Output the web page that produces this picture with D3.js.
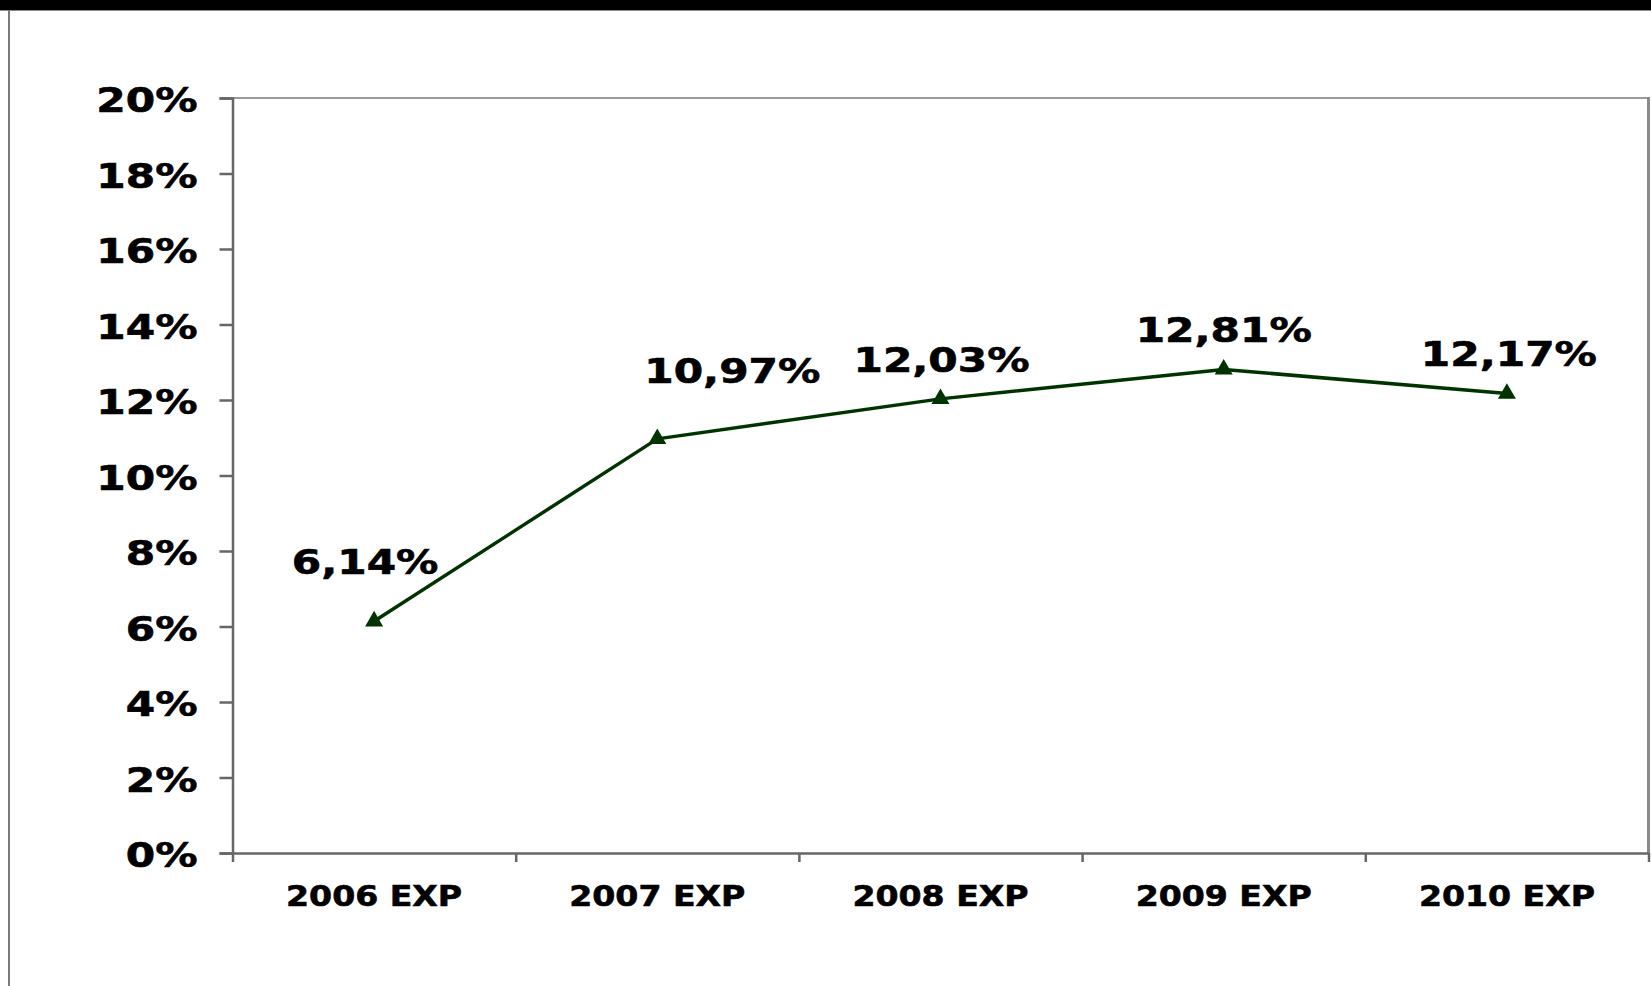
<!DOCTYPE html>
<html>
<head>
<meta charset="utf-8">
<script src="https://cdn.jsdelivr.net/npm/d3@7"></script>
<style>
  body { margin: 0; background: #fff; overflow: hidden; }
  svg text { font-family: "DejaVu Sans", Verdana, sans-serif; font-weight: bold; fill: #000; stroke: #000; stroke-width: 0.6px; }
</style>
</head>
<body>
<svg id="chart" width="1651" height="986"></svg>
<script>
// Yearly expected rates (percent)
const categories = ["2006 EXP", "2007 EXP", "2008 EXP", "2009 EXP", "2010 EXP"];
const values = [6.14, 10.97, 12.03, 12.81, 12.17];
const valueLabels = ["6,14%", "10,97%", "12,03%", "12,81%", "12,17%"];
const yTicks = [0, 2, 4, 6, 8, 10, 12, 14, 16, 18, 20];
const yTickLabels = ["0%", "2%", "4%", "6%", "8%", "10%", "12%", "14%", "16%", "18%", "20%"];

// Label placement relative to each point (dx, dy)
const labelNudges = [[-9, -47], [75, -56], [1, -27], [0, -27], [2, -28]];

const W = 1651, H = 986;
const plot = { left: 232.5, right: 1648.5, top: 98, bottom: 853 };
const stretchValue = 1.27;   // horizontal text stretch for percent labels
const stretchCat = 1.15;     // horizontal text stretch for category labels

const svg = d3.select("#chart");

// Page frame: black band on top, grey rule on the left
svg.append("rect").attr("x", 0).attr("y", 0).attr("width", W).attr("height", 10).attr("fill", "#000");
svg.append("line").attr("x1", 0).attr("x2", W).attr("y1", 10.5).attr("y2", 10.5)
  .attr("stroke", "#8a8a8a").attr("stroke-width", 1);
svg.append("line").attr("x1", 9).attr("x2", 9).attr("y1", 10).attr("y2", H)
  .attr("stroke", "#7a7a7a").attr("stroke-width", 2);

const x = d3.scaleBand().domain(categories).range([plot.left, plot.right]).paddingInner(0).paddingOuter(0);
const xEdge = d3.scaleLinear().domain([0, categories.length]).range([plot.left, plot.right]);
const y = d3.scaleLinear().domain([0, 20]).range([plot.bottom, plot.top]);
const cx = d => x(d) + x.bandwidth() / 2;

// Plot area border (top and right)
svg.append("line").attr("x1", plot.left).attr("x2", plot.right + 1.5)
  .attr("y1", plot.top).attr("y2", plot.top)
  .attr("stroke", "#9a9a9a").attr("stroke-width", 2);
svg.append("line").attr("x1", plot.right).attr("x2", plot.right)
  .attr("y1", plot.top - 1).attr("y2", plot.bottom)
  .attr("stroke", "#8a8a8a").attr("stroke-width", 3);

// Y axis
const yAxis = svg.append("g")
  .attr("transform", `translate(${plot.left},0)`)
  .call(d3.axisLeft(y).tickValues(yTicks).tickSize(13).tickPadding(22)
    .tickFormat((d, i) => yTickLabels[i]));
yAxis.select(".domain").attr("stroke", "#666").attr("stroke-width", 2.5);
yAxis.selectAll(".tick line").attr("stroke", "#666").attr("stroke-width", 2.5);
yAxis.selectAll(".tick text")
  .attr("font-size", 33.3)
  .attr("x", -35 / stretchValue)
  .attr("dy", "0.41em")
  .attr("transform", `scale(${stretchValue},1)`)
  .style("font-family", '"DejaVu Sans", Verdana, sans-serif')
  .style("font-weight", "bold");

// X axis: baseline with ticks on category boundaries
const xAxis = svg.append("g")
  .attr("transform", `translate(0,${plot.bottom})`)
  .call(d3.axisBottom(xEdge).tickValues(d3.range(categories.length + 1)).tickSize(9).tickSizeOuter(0).tickFormat(""));
xAxis.select(".domain").attr("stroke", "#666").attr("stroke-width", 2.5);
xAxis.selectAll(".tick line").attr("stroke", "#666").attr("stroke-width", 2.5);

// Category labels
svg.append("g").selectAll("text").data(categories).join("text")
  .attr("transform", d => `translate(${cx(d)},906) scale(${stretchCat},1)`)
  .attr("text-anchor", "middle")
  .attr("font-size", 28.8)
  .text(d => d);

// Series line
const pts = categories.map((c, i) => [cx(c), y(values[i])]);
svg.append("path")
  .attr("d", d3.line()(pts))
  .attr("fill", "none")
  .attr("stroke", "#003300")
  .attr("stroke-width", 3.5)
  .attr("stroke-linejoin", "round");

// Triangle markers
svg.append("g").selectAll("path").data(pts).join("path")
  .attr("transform", d => `translate(${d[0]},${d[1]})`)
  .attr("d", d3.symbol().type(d3.symbolTriangle).size(140))
  .attr("fill", "#003300");

// Value labels
svg.append("g").selectAll("text").data(valueLabels).join("text")
  .attr("transform", (d, i) => `translate(${pts[i][0] + labelNudges[i][0]},${pts[i][1] + labelNudges[i][1]}) scale(${stretchValue},1)`)
  .attr("text-anchor", "middle")
  .attr("font-size", 33.3)
  .text(d => d);
</script>
</body>
</html>
